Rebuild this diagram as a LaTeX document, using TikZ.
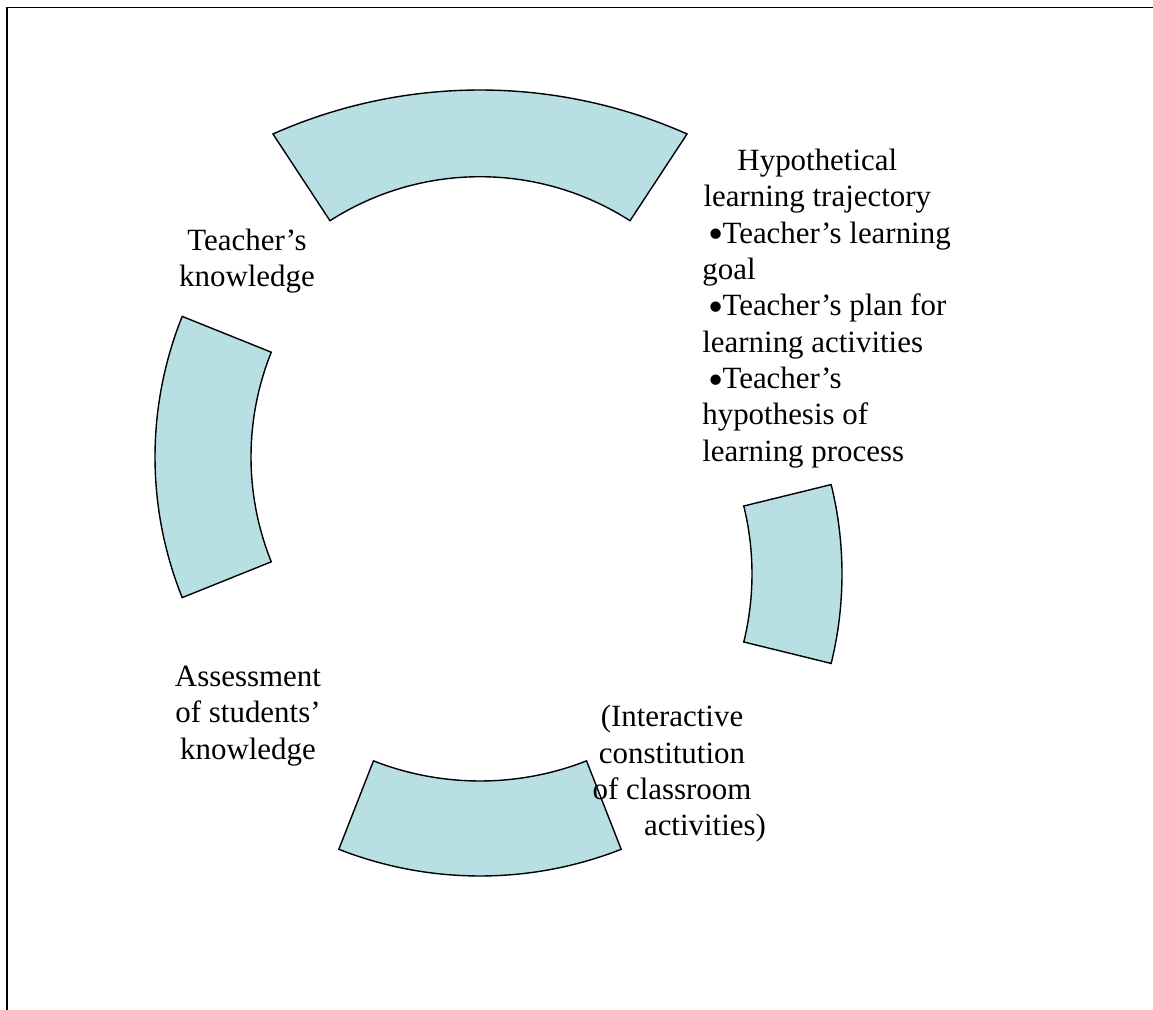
\documentclass[tikz,border=0pt]{standalone}
\usepackage{fontspec}
\setmainfont{Liberation Serif}
\definecolor{segfill}{RGB}{184,224,228}
\tikzset{
  seg/.style={draw=black, line width=0.8pt, fill=segfill},
  txt/.style={font=\fontsize{17.6}{20.7}\selectfont, inner sep=0pt, align=center},
}
\newcommand{\bul}{\hspace*{0.12cm}\raisebox{-0.18em}{\scalebox{1.4}{•}}\hspace{-0.02cm}}
\begin{document}
\begin{tikzpicture}[x=0.02cm,y=0.02cm]
  \useasboundingbox (0,0) rectangle (1153,-1010);
  % khung
  \draw[line width=1pt] (7,-1010) -- (7,-7.5) -- (1153,-7.5);
  % manh vanh: tam, goc dau:goc cuoi, ban kinh trong/ngoai
  \def\seg(#1,#2)(#3:#4)(#5/#6){
    \begin{scope}[shift={(#1,#2)}]
      \draw[seg] (#3:#6) arc (#3:#4:#6) -- (#4:#5) arc (#4:#3:#5) -- cycle;
    \end{scope}
  }
  \draw[seg] ([shift={(480,-599)}]114:509) arc (114:66:509)
    -- ([shift={(480,-454.4)}]57.3:277.7) arc (57.3:122.7:277.7) -- cycle;
  \seg(532,-457)(158.1:201.9)(281/377)
  \seg(480,-489)(248.6:291.4)(292/387)
  \seg(467,-574)(-13.8:13.8)(285/375)
  % chu
  \node[txt] (tk) at (247,-261) {Teacher’s\\knowledge};
  \node[txt] (as) at (248,-716) {Assessment\\of students’\\knowledge};
  \node[txt] (ic) at (672,-774) {(Interactive\\constitution\\of classroom\\
    \makebox[0pt]{\hspace{1.32cm}activities)}};
  \node[txt, align=left, anchor=north west] (hlt) at (702,-148.5) {%
    \makebox[4.6cm]{Hypothetical}\\
    \makebox[4.6cm]{learning trajectory}\\
    \bul Teacher’s learning\\
    goal\\
    \bul Teacher’s plan for\\
    learning activities\\
    \bul Teacher’s\\
    hypothesis of\\
    learning process};
\end{tikzpicture}
\end{document}
